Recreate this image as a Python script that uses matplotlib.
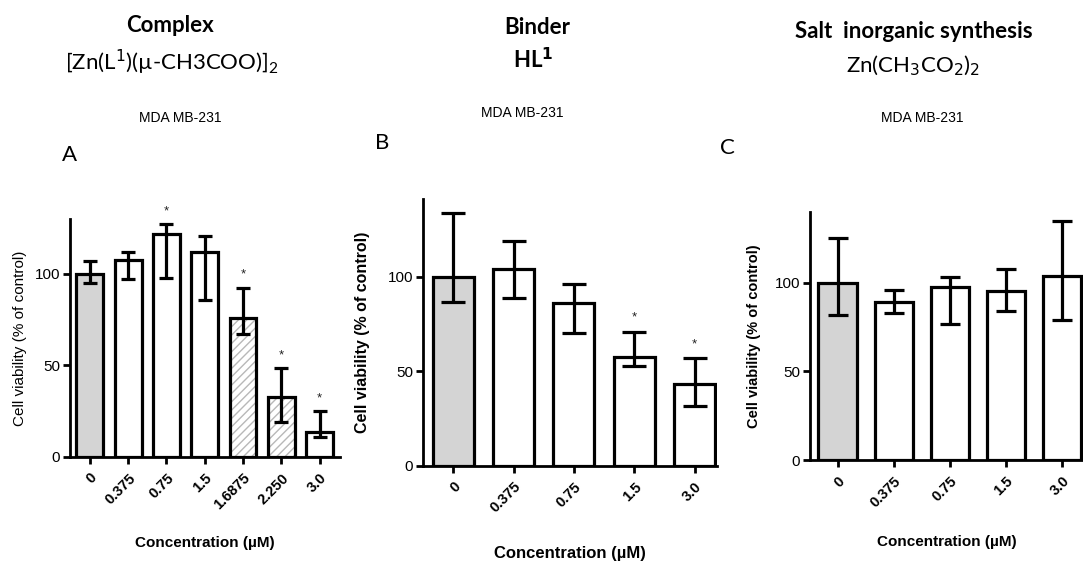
import numpy as np
import matplotlib
matplotlib.use("Agg")
import matplotlib.pyplot as plt

# panel A - complex
conc_a = ["0", "0.375", "0.75", "1.5", "1.6875", "2.250", "3.0"]
via_a = [100, 107.5, 122, 112, 76, 32.5, 13.5]
err_hi_a = [107, 112, 127, 120.5, 92.5, 48.5, 25]
err_lo_a = [95, 97.5, 98, 85.5, 67, 19, 11]
star_a = [False, False, True, False, True, True, True]

# panel B - binder HL1
conc_b = ["0", "0.375", "0.75", "1.5", "3.0"]
via_b = [100, 104, 86, 57.5, 43]
err_hi_b = [134, 119, 96, 71, 57]
err_lo_b = [86.5, 89, 70.5, 53, 31.5]
star_b = [False, False, False, True, True]

# panel C - zinc acetate
conc_c = ["0", "0.375", "0.75", "1.5", "3.0"]
via_c = [100, 89, 97.5, 95.5, 104]
err_hi_c = [125, 96, 103, 107.5, 135]
err_lo_c = [82, 83, 76.5, 84, 79]
star_c = [False] * 5

arial = ["Liberation Sans", "DejaVu Sans"]
calibri = ["Lato", "DejaVu Sans"]

fig = plt.figure(figsize=(10.83, 5.63), dpi=100)


def panel(rect, labels, vals, hi, lo, stars, ylim, xlim, width, fills, hatches,
          ylab_bold, ylab_fs, ylab_x, xlab_y, fs_x, capsize):
    ax = fig.add_axes(rect)
    x = np.arange(len(vals))
    vals = np.array(vals)
    yerr = [vals - np.array(lo), np.array(hi) - vals]
    for i in range(len(vals)):
        if hatches[i]:
            # light grey hatch underneath, black outline on top
            ax.bar(x[i], vals[i], width=width, color="white", edgecolor="#b8b8b8",
                   linewidth=0, hatch=hatches[i], zorder=2)
            ax.bar(x[i], vals[i], width=width, fill=False, edgecolor="black",
                   linewidth=2.3, zorder=2)
        else:
            ax.bar(x[i], vals[i], width=width, color=fills[i], edgecolor="black",
                   linewidth=2.3, zorder=2)
    ax.errorbar(x, vals, yerr=yerr, fmt="none", ecolor="black",
                elinewidth=2.3, capsize=capsize, capthick=2.3, zorder=3)
    for i in range(len(vals)):
        if stars[i]:
            ax.text(x[i], hi[i] + ylim * 0.03, "*", ha="center", va="bottom",
                    fontsize=9.5, family=arial, color="#222222")
    ax.set_ylim(0, ylim)
    ax.set_xlim(*xlim)
    ax.set_yticks([0, 50, 100])
    ax.set_yticklabels(["0", "50", "100"], family=arial, fontsize=11)
    ax.set_xticks(x)
    ax.set_xticklabels(labels, rotation=45, ha="right", rotation_mode="anchor",
                       family=arial, fontsize=10.5, fontweight="bold")
    for s in ["top", "right"]:
        ax.spines[s].set_visible(False)
    for s in ["left", "bottom"]:
        ax.spines[s].set_linewidth(2)
    ax.tick_params(axis="both", width=2, length=5, pad=2)
    ax.tick_params(axis="x", pad=5)
    ax.set_ylabel("Cell viability (% of control)", family=arial, fontsize=ylab_fs,
                  fontweight="bold" if ylab_bold else "normal")
    ax.yaxis.set_label_coords(ylab_x, 0.5)
    ax.set_xlabel("Concentration (µM)", family=arial, fontsize=fs_x, fontweight="bold")
    ax.xaxis.set_label_coords(0.5, xlab_y)
    return ax


grey = "#d4d4d4"
ax_a = panel([0.0646, 0.1883, 0.2493, 0.4227], conc_a, via_a, err_hi_a, err_lo_a,
             star_a, 130, (-0.52, 6.53), 0.7,
             [grey, "white", "white", "white", "white", "white", "white"],
             [None, None, None, None, "////", "////", None],
             False, 11, -0.16, -0.33, 11, 5)
ax_b = panel([0.3906, 0.1728, 0.2715, 0.4732], conc_b, via_b, err_hi_b, err_lo_b,
             star_b, 141, (-0.5, 4.37), 0.68,
             [grey, "white", "white", "white", "white"], [None] * 5,
             True, 11.5, -0.18, -0.3, 12, 8.5)
ax_c = panel([0.7479, 0.1829, 0.2521, 0.441], conc_c, via_c, err_hi_c, err_lo_c,
             star_c, 140, (-0.49, 4.37), 0.68,
             [grey, "white", "white", "white", "white"], [None] * 5,
             True, 10.5, -0.18, -0.3, 11, 7)


def ftext(x, y, s, **kw):
    fig.text(x / 1083, 1 - y / 563, s, ha="center", va="center", **kw)


ftext(170, 25, "Complex", family=calibri, fontsize=16, fontweight="bold")
ftext(172, 62, r"[Zn(L$^{1}$)(µ-CH3COO)]$_{\mathregular{2}}$", family=calibri, fontsize=16)
ftext(180, 118, "MDA MB-231", family=arial, fontsize=10)
ftext(70, 155, "A", family=calibri, fontsize=16)

ftext(537, 27, "Binder", family=calibri, fontsize=16, fontweight="bold")
ftext(533, 60, r"HL$^{\mathbf{1}}$", family=calibri, fontsize=16, fontweight="bold")
ftext(522, 113, "MDA MB-231", family=arial, fontsize=10)
ftext(382, 143, "B", family=calibri, fontsize=16)

ftext(914, 32, "Salt  inorganic synthesis", family=calibri, fontsize=16, fontweight="bold")
ftext(913, 66, r"Zn(CH$_3$CO$_2$)$_2$", family=calibri, fontsize=16)
ftext(922, 118, "MDA MB-231", family=arial, fontsize=10)
ftext(727, 148, "C", family=calibri, fontsize=16)

fig.savefig("out.png", dpi=100)
